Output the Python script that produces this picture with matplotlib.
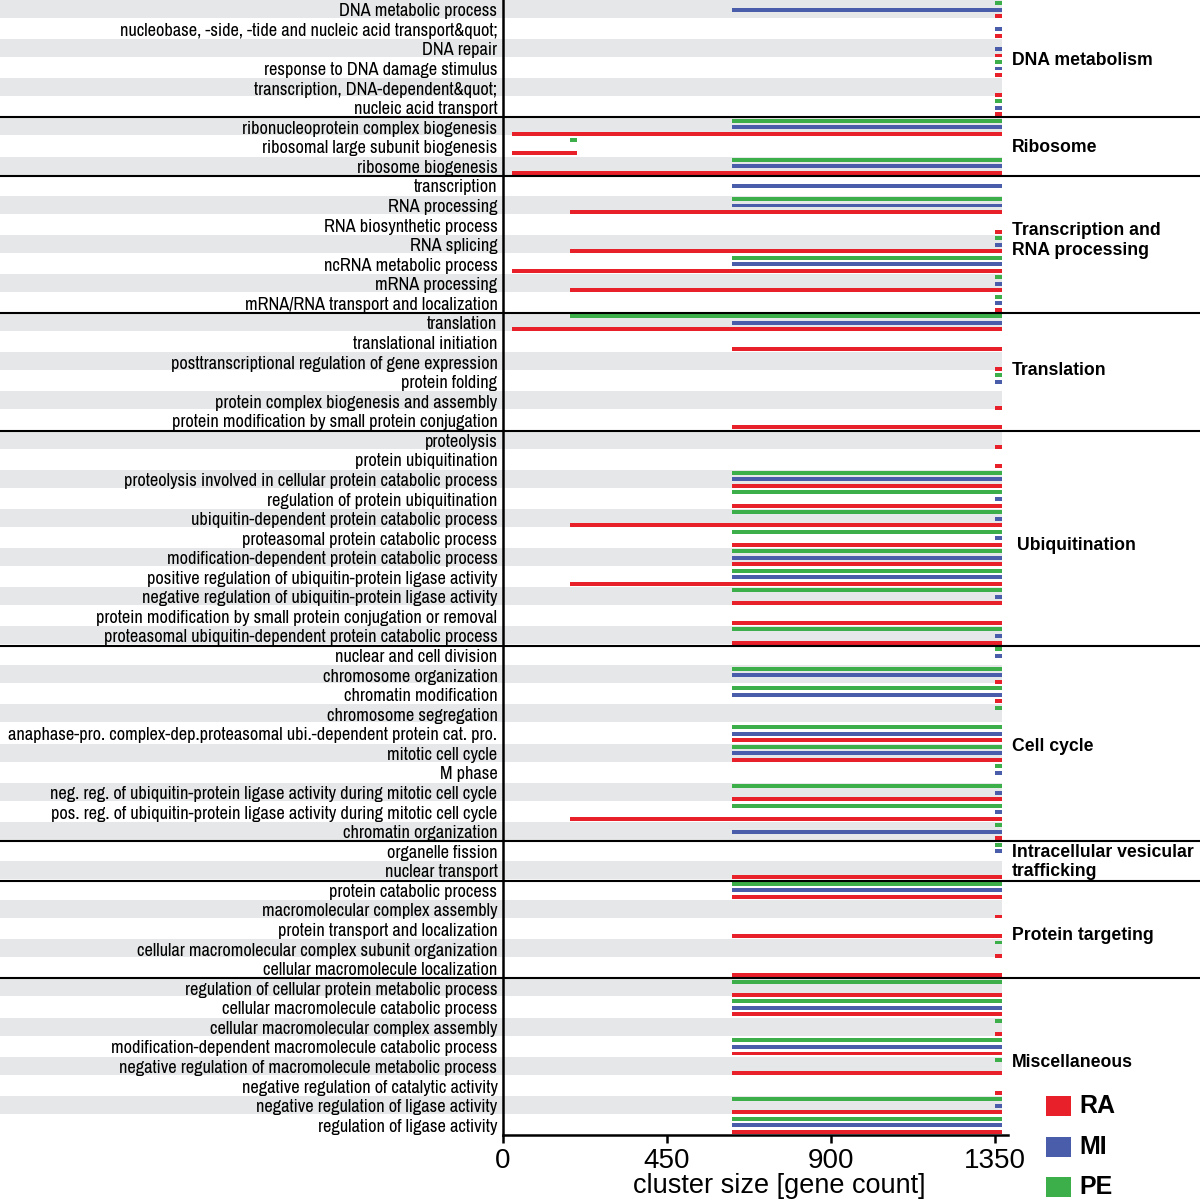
import matplotlib
matplotlib.use('Agg')
import matplotlib.pyplot as plt
import matplotlib.transforms as mtransforms
from matplotlib.patches import Rectangle
from matplotlib import font_manager

# ---------------- data ----------------
categories = [
    "DNA metabolic process",
    "nucleobase, -side, -tide and nucleic acid transport&quot;",
    "DNA repair",
    "response to DNA damage stimulus",
    "transcription, DNA-dependent&quot;",
    "nucleic acid transport",
    "ribonucleoprotein complex biogenesis",
    "ribosomal large subunit biogenesis",
    "ribosome biogenesis",
    "transcription",
    "RNA processing",
    "RNA biosynthetic process",
    "RNA splicing",
    "ncRNA metabolic process",
    "mRNA processing",
    "mRNA/RNA transport and localization",
    "translation",
    "translational initiation",
    "posttranscriptional regulation of gene expression",
    "protein folding",
    "protein complex biogenesis and assembly",
    "protein modification by small protein conjugation",
    "proteolysis",
    "protein ubiquitination",
    "proteolysis involved in cellular protein catabolic process",
    "regulation of protein ubiquitination",
    "ubiquitin-dependent protein catabolic process",
    "proteasomal protein catabolic process",
    "modification-dependent protein catabolic process",
    "positive regulation of ubiquitin-protein ligase activity",
    "negative regulation of ubiquitin-protein ligase activity",
    "protein modification by small protein conjugation or removal",
    "proteasomal ubiquitin-dependent protein catabolic process",
    "nuclear and cell division",
    "chromosome organization",
    "chromatin modification",
    "chromosome segregation",
    "anaphase-pro. complex-dep.proteasomal ubi.-dependent protein cat. pro.",
    "mitotic cell cycle",
    "M phase",
    "neg. reg. of ubiquitin-protein ligase activity during mitotic cell cycle",
    "pos. reg. of ubiquitin-protein ligase activity during mitotic cell cycle",
    "chromatin organization",
    "organelle fission",
    "nuclear transport",
    "protein catabolic process",
    "macromolecular complex assembly",
    "protein transport and localization",
    "cellular macromolecular complex subunit organization",
    "cellular macromolecule localization",
    "regulation of cellular protein metabolic process",
    "cellular macromolecule catabolic process",
    "cellular macromolecular complex assembly",
    "modification-dependent macromolecule catabolic process",
    "negative regulation of macromolecule metabolic process",
    "negative regulation of catalytic activity",
    "negative regulation of ligase activity",
    "regulation of ligase activity",
]

group_names = ["DNA metabolism", "Ribosome", "Transcription and\nRNA processing",
               "Translation", "Ubiquitination", "Cell cycle",
               "Intracellular vesicular\ntrafficking", "Protein targeting",
               "Miscellaneous"]
group_sizes = [6, 3, 7, 6, 11, 10, 2, 5, 8]

series_names = ["RA", "MI", "PE"]

# bar start values (gene count); None = no bar
ra_start = [1350, 1350, 1350, 1350, 1350, 1350, 25, 25, 25, None,
            184, 1350, 184, 25, 184, 1350, 25, 628, 1350, None,
            1350, 628, 1350, 1350, 628, 628, 184, 628, 628, 184,
            628, 628, 628, None, 1350, 1350, None, 628, 628, None,
            628, 184, 1350, None, 628, 628, 1350, 628, 1350, 628,
            628, 628, 1350, 628, 628, 1350, 628, 628]
mi_start = [628, 1350, 1350, 1350, None, 1350, 628, None, 628, 628,
            628, None, 1350, 628, 1350, 1350, 628, None, None, 1350,
            None, None, None, None, 628, 1350, 1350, 1350, 628, 628,
            1350, None, 1350, 1350, 628, 628, None, 628, 628, 1350,
            1350, 1350, 628, 1350, None, 628, None, None, None, None,
            None, 628, None, 628, None, None, 1350, 628]
pe_start = [1350, None, None, 1350, None, 1350, 628, 184, 628, None,
            628, None, 1350, 628, 1350, 1350, 184, None, None, 1350,
            None, None, None, None, 628, 628, 628, 628, 628, 628,
            628, None, 628, 1350, 628, 628, 1350, 628, 628, 1350,
            628, 628, 1350, 1350, None, 628, None, None, 1350, None,
            628, 628, 1350, 628, 1350, None, 628, 628]

# bar end values (gene count): common end, with exceptions by row
common_end = 1369
ra_end_exceptions = {7: 203}
mi_end_exceptions = {}
pe_end_exceptions = {7: 203}

x_ticks = [0, 450, 900, 1350]
x_label = "cluster size [gene count]"

# ---------------- style ----------------
colors = {"RA": "#E8202A", "MI": "#4A5DAB", "PE": "#3DAF4A"}
offsets = {"PE": -0.335, "MI": 0.0, "RA": 0.335}
band_color = "#E6E7E8"

plt.rcParams['font.family'] = ['Liberation Sans', 'DejaVu Sans']

# pick a condensed sans face if one is installed
label_family = 'Liberation Sans'
label_stretch = 'normal'
for f in font_manager.fontManager.ttflist:
    nm = f.name
    if ('Narrow' in nm or 'Condensed' in nm) and 'Mono' not in nm and 'Serif' not in nm:
        label_family = nm
        break
else:
    for f in font_manager.fontManager.ttflist:
        if str(f.stretch) in ('condensed', 'semi-condensed', '500', '300') and \
                'Mono' not in f.name and 'Serif' not in f.name and f.style == 'normal':
            label_family = f.name
            label_stretch = f.stretch
            break

W, H = 1200, 1201
fig = plt.figure(figsize=(W / 100, H / 100), dpi=100)
ax_left, ax_right = 503 / W, 1008 / W
ax_top, ax_bottom = 1 - 0 / H, 1 - 1135 / H
ax = fig.add_axes([ax_left, ax_bottom, ax_right - ax_left, ax_top - ax_bottom])

# fit row-label font size so the longest label spans ~492 px
renderer = fig.canvas.get_renderer()
probe = fig.text(0, 0, categories[37], fontsize=12, family=[label_family, 'Liberation Sans'],
                 fontstretch=label_stretch)
wpx = probe.get_window_extent(renderer).width
probe.remove()
label_size = min(14.0, 12 * 490.0 / wpx)

n = len(categories)
xmax = 1386
ax.set_xlim(0, xmax)
ax.set_ylim(n - 0.5, -0.5)

# alternating grey bands (span label area too)
blend = mtransforms.blended_transform_factory(fig.transFigure, ax.transData)
for i in range(0, n, 2):
    ax.axhspan(i - 0.5, i + 0.42, xmin=0, xmax=common_end / xmax,
               color=band_color, lw=0, zorder=0)
    ax.add_patch(Rectangle((0, i - 0.5), ax_left, 0.92, transform=blend,
                           color=band_color, lw=0, zorder=0, clip_on=False))

bar_h = 0.2
for name, starts, exc in [("PE", pe_start, pe_end_exceptions),
                          ("MI", mi_start, mi_end_exceptions),
                          ("RA", ra_start, ra_end_exceptions)]:
    ys, lefts, widths = [], [], []
    for i, s in enumerate(starts):
        if s is None:
            continue
        e = exc.get(i, common_end)
        ys.append(i + offsets[name])
        lefts.append(s)
        widths.append(e - s)
    ax.barh(ys, widths, left=lefts, height=bar_h, color=colors[name],
            lw=0, zorder=2)

# group separators spanning full width
b = 0
for size in group_sizes[:-1]:
    b += size
    ax.plot([0, 1], [b - 0.5, b - 0.5], transform=blend, color='black',
            lw=1.5, clip_on=False, zorder=5)

# group labels
group_label_y = [2.57, 7.05, 11.8, 18.41, 27.4, 37.67, 43.55, 47.33, 53.77]
group_label_x = [1012, 1012, 1012, 1012, 1017, 1012, 1012, 1012, 1012]
for name, gy, gx in zip(group_names, group_label_y, group_label_x):
    ax.text(gx / W, gy, name, transform=blend, ha='left', va='center',
            fontsize=12.7, fontweight='bold', linespacing=1.2)

# axes styling
for sp in ['top', 'right']:
    ax.spines[sp].set_visible(False)
ax.spines['left'].set_linewidth(1.8)
ax.spines['bottom'].set_linewidth(1.8)
ax.set_yticks(range(n))
ax.set_yticklabels(categories, fontsize=label_size,
                   family=[label_family, 'Liberation Sans'], fontstretch=label_stretch)
ax.tick_params(axis='y', length=0, pad=4)
ax.set_xticks(x_ticks)
ax.set_xticklabels([str(t) for t in x_ticks], fontsize=20)
ax.tick_params(axis='x', length=6, width=1.8, pad=3)
ax.set_xlabel(x_label, fontsize=19.5)
ax.xaxis.label.set_va('center')
ax.xaxis.set_label_coords((779 - 503) / (1008 - 503), -(1186 - 1135) / 1135)

# legend
leg_y = [1106, 1147, 1187]
for name, ly in zip(series_names, leg_y):
    fig.add_artist(Rectangle((1046 / W, 1 - (ly + 10) / H), 25 / W, 20 / H,
                             transform=fig.transFigure, color=colors[name], lw=0))
    fig.text(1079 / W, 1 - ly / H, name, fontsize=18, fontweight='bold',
             ha='left', va='center')

fig.savefig('out.png', dpi=100)
